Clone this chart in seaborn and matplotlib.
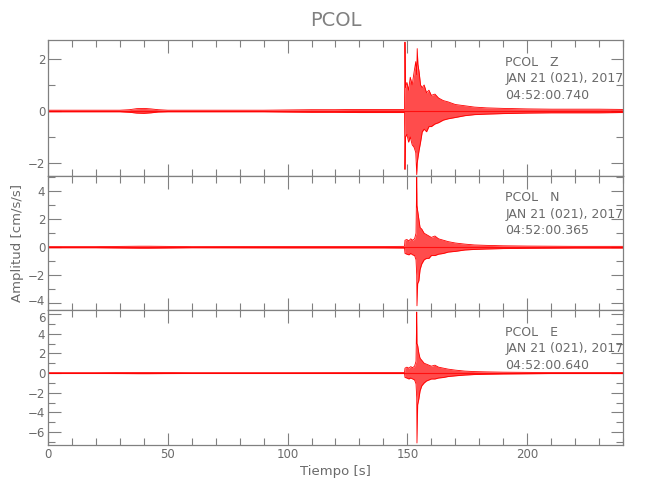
import numpy as np
import matplotlib
matplotlib.use("Agg")
import matplotlib.pyplot as plt
from matplotlib.ticker import MultipleLocator
from matplotlib.transforms import ScaledTranslation
import seaborn as sns

# Envolvente (tiempo [s], pico superior, pico inferior) ----------------------------------
t_z = [0, 10, 20, 30, 34, 37, 40, 43, 46, 50, 60, 70, 80, 90, 100, 110, 120, 130, 140, 148.8,
       149.0, 149.2, 149.8, 150.5, 151.2, 152.0, 152.8, 153.5, 153.9, 154.1, 154.4, 154.9,
       155.5, 156.2, 157.0, 158.0, 159.0, 160.0, 161.5, 163.0, 165.0, 167.0, 170.0, 174.0,
       178.0, 183.0, 190.0, 200.0, 210.0, 220.0, 230.0, 240.0]
up_z = [0.03, 0.03, 0.03, 0.03, 0.05, 0.09, 0.10, 0.08, 0.05, 0.03, 0.03, 0.03, 0.03, 0.03, 0.04,
        0.05, 0.05, 0.06, 0.06, 0.06,
        2.65, 0.9, 1.1, 0.8, 1.3, 1.0, 1.5, 1.9, 1.4, 2.4, 1.8, 1.5,
        1.0, 0.9, 1.0, 0.7, 0.8, 0.6, 0.65, 0.5, 0.4, 0.35, 0.25, 0.2,
        0.15, 0.12, 0.1, 0.08, 0.07, 0.07, 0.07, 0.06]
lo_z = [-0.03, -0.03, -0.03, -0.03, -0.05, -0.08, -0.09, -0.07, -0.04, -0.03, -0.03, -0.03, -0.03,
        -0.03, -0.04, -0.05, -0.05, -0.06, -0.06, -0.06,
        -2.25, -1.0, -0.9, -1.2, -1.0, -1.3, -1.4, -1.6, -2.45, -2.0, -1.8, -1.5,
        -1.2, -0.8, -0.7, -0.8, -0.6, -0.6, -0.5, -0.45, -0.35, -0.3, -0.25, -0.18,
        -0.14, -0.12, -0.1, -0.08, -0.07, -0.07, -0.07, -0.06]

t_h = [0, 20, 38, 42, 60, 100, 140, 148.8,
       149.0, 149.8, 150.6, 151.4, 152.2, 153.0, 153.6, 153.9, 154.0, 154.3, 154.8, 155.3,
       156.0, 157.0, 158.0, 159.0, 160.0, 161.5, 163.0, 165.0, 167.0, 170.0, 174.0, 178.0,
       183.0, 190.0, 200.0, 210.0, 220.0, 240.0]
up_n = [0.04, 0.04, 0.07, 0.07, 0.04, 0.05, 0.05, 0.06,
        0.5, 0.55, 0.45, 0.6, 0.5, 0.6, 1.0, 5.1, 3.0, 2.6, 2.0, 1.4,
        1.3, 1.0, 0.9, 0.8, 0.7, 0.8, 0.6, 0.5, 0.4, 0.3, 0.22, 0.16,
        0.13, 0.1, 0.08, 0.07, 0.06, 0.06]
lo_n = [-0.04, -0.04, -0.07, -0.07, -0.04, -0.05, -0.05, -0.06,
        -0.45, -0.5, -0.55, -0.45, -0.55, -0.6, -0.9, -2.0, -4.2, -2.6, -2.4, -1.6,
        -1.2, -0.9, -0.8, -0.8, -0.6, -0.6, -0.5, -0.45, -0.35, -0.3, -0.2, -0.16,
        -0.13, -0.1, -0.08, -0.07, -0.06, -0.06]
up_e = [0.04, 0.04, 0.06, 0.06, 0.04, 0.04, 0.05, 0.05,
        0.5, 0.6, 0.5, 0.65, 0.55, 0.7, 1.2, 6.2, 3.0, 2.8, 2.0, 1.5,
        1.3, 1.0, 0.9, 0.8, 0.7, 0.8, 0.6, 0.5, 0.4, 0.3, 0.2, 0.15,
        0.12, 0.09, 0.07, 0.05, 0.05, 0.05]
lo_e = [-0.04, -0.04, -0.06, -0.06, -0.04, -0.04, -0.05, -0.05,
        -0.45, -0.5, -0.6, -0.5, -0.6, -0.7, -1.1, -2.5, -7.1, -3.2, -2.6, -1.8,
        -1.3, -1.0, -0.8, -0.7, -0.6, -0.6, -0.5, -0.45, -0.35, -0.28, -0.2, -0.15,
        -0.12, -0.09, -0.07, -0.05, -0.05, -0.05]

componentes = ["Z", "N", "E"]
horas = ["04:52:00.740", "04:52:00.365", "04:52:00.640"]
fecha = "JAN 21 (021), 2017"
estacion = "PCOL"
limites_y = [(-2.5, 2.73), (-4.5, 5.1), (-7.3, 6.4)]
ticks_y = [2, 2, 2]

trazas = [(t_z, up_z, lo_z), (t_h, up_n, lo_n), (t_h, up_e, lo_e)]

sns.set_style("ticks")
plt.rcParams['font.family'] = ['DejaVu Sans']
gris = '#808080'
gris_txt = '#6a6a6a'

fig = plt.figure(figsize=(6.5, 5), dpi=100)
# posiciones de los paneles (en fraccion de figura)
bordes = [(0.648, 0.92), (0.38, 0.648), (0.11, 0.38)]

axs = []
for i, (t, up, lo) in enumerate(trazas):
    b, tp = bordes[i]
    ax = fig.add_axes([0.0738, b, 0.8847, tp - b])
    axs.append(ax)
    ax.fill_between(t, lo, up, color='red', alpha=0.7, linewidth=0)
    sns.lineplot(x=t, y=up, ax=ax, color='red', linewidth=0.6, estimator=None, sort=False)
    sns.lineplot(x=t, y=lo, ax=ax, color='red', linewidth=0.6, estimator=None, sort=False)
    ax.axhline(0, color='red', linewidth=0.8, alpha=0.8)

    ax.set_xlim(0, 240)
    ax.set_ylim(*limites_y[i])
    ax.xaxis.set_major_locator(MultipleLocator(50))
    ax.xaxis.set_minor_locator(MultipleLocator(10))
    ax.yaxis.set_major_locator(MultipleLocator(ticks_y[i]))
    ax.yaxis.set_minor_locator(MultipleLocator(1))
    ax.tick_params(which='both', direction='in', top=True, right=True, color=gris,
                   labelcolor=gris_txt, labelsize=8.5)
    ax.tick_params(which='major', length=9, width=0.8, pad=2)
    ax.tick_params(which='minor', length=5, width=0.8)
    for s in ax.spines.values():
        s.set_color(gris)
        s.set_linewidth(0.9)
    if i < 2:
        ax.tick_params(labelbottom=False)

    ax.text(0.795, 0.885, f"{estacion}   {componentes[i]}\n{fecha}\n{horas[i]}",
            transform=ax.transAxes, va='top', ha='left', fontsize=9,
            color=gris_txt, linespacing=1.35)

axs[0].set_title("PCOL", color=gris, fontsize=14, pad=10)
axs[1].set_ylabel("Amplitud [cm/s/s]", color=gris_txt, fontsize=9.5, labelpad=3)
axs[2].set_xlabel("Tiempo [s]", color=gris_txt, fontsize=9.5, labelpad=3)

# separar un poco las etiquetas que se tocan entre paneles
fig.canvas.draw()
for ax, valor, dy in [(axs[1], -4, 2.5), (axs[2], 6, -2.5)]:
    for tick in ax.yaxis.get_major_ticks():
        if abs(tick.get_loc() - valor) < 1e-6:
            lab = tick.label1
            lab.set_transform(lab.get_transform() + ScaledTranslation(0, dy / 72, fig.dpi_scale_trans))

fig.savefig("out.png", dpi=100)
